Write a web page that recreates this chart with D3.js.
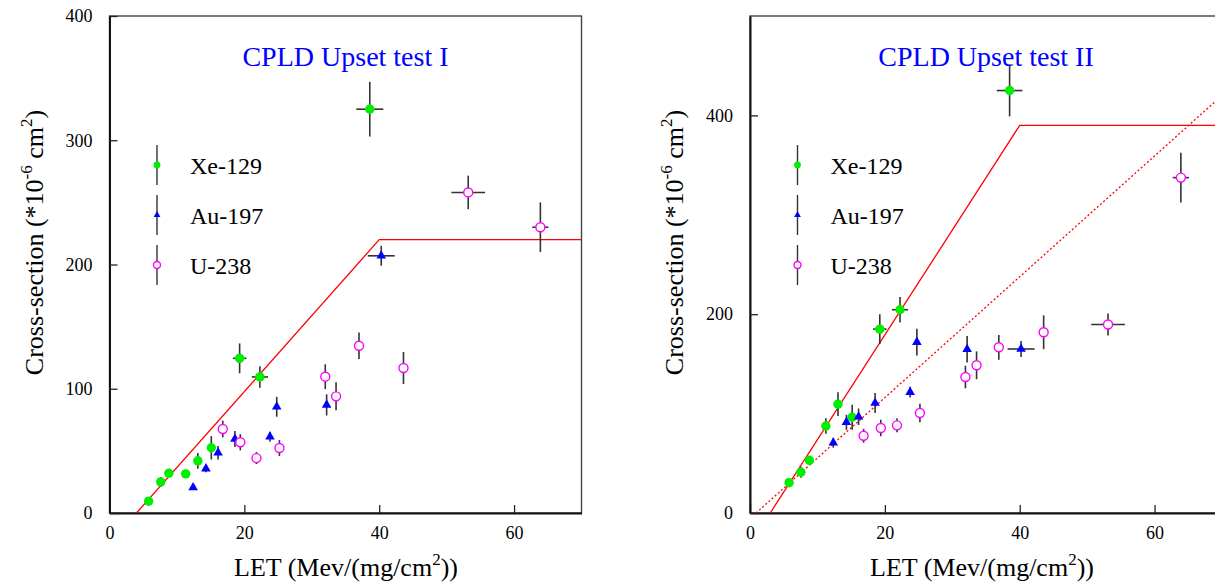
<!DOCTYPE html>
<html>
<head>
<meta charset="utf-8">
<script src="https://cdn.jsdelivr.net/npm/d3@7"></script>
<style>
  html, body { margin: 0; padding: 0; background: #fff; overflow: hidden; }
  svg { display: block; }
  svg text { font-family: "Liberation Serif", "Times New Roman", serif; }
</style>
</head>
<body>
<svg id="chart" width="1215" height="583"></svg>
<script>
// ---- data: single-event upset cross-section vs LET ----
const panelTitles = ["CPLD Upset test I", "CPLD Upset test II"];
const ionNames = ["Xe-129", "Au-197", "U-238"];

// Test I
const xe1LET      = [5.8, 7.6, 8.8, 11.3, 13.1, 15.1, 19.3, 22.3, 38.6];
const xe1Sigma    = [9.5, 25, 32, 31.5, 42, 52.5, 124.5, 109.5, 325];
const xe1SigmaErr = [3, 4, 3, 3, 6.3, 9.4, 12, 8.7, 22];
const xe1LETErr   = [0, 0, 0, 0, 0, 0, 1.0, 1.2, 2.0];

const au1LET      = [12.4, 14.3, 16.1, 18.6, 23.8, 24.8, 32.2, 40.3];
const au1Sigma    = [20.5, 35.7, 48.5, 59.5, 61.4, 85.5, 87, 207];
const au1SigmaErr = [2, 3, 5.4, 6.4, 4, 8, 8.5, 8];
const au1LETErr   = [0, 0, 0, 0, 0, 0, 0, 2.0];

const u1LET       = [16.8, 19.4, 21.8, 25.2, 32.0, 33.6, 37.0, 43.6, 53.2, 63.9];
const u1Sigma     = [67.6, 56.9, 44.2, 52.3, 109.7, 93.9, 134.6, 116.7, 258, 230];
const u1SigmaErr  = [6.7, 6.5, 4.8, 6.4, 10, 11.3, 10.7, 12.9, 13.5, 20];
const u1LETErr    = [0, 0, 0, 0, 0, 0, 0, 0, 2.5, 1.2];

const fit1LET   = [4, 40, 70];
const fit1Sigma = [0, 220, 220];

// Test II
const xe2LET      = [5.8, 7.55, 8.8, 11.25, 13.05, 15.15, 19.25, 22.25, 38.5];
const xe2Sigma    = [30.5, 41, 53, 87.5, 109.5, 96.3, 185, 204.5, 425];
const xe2SigmaErr = [3, 5.5, 3, 7.8, 12, 12.5, 15, 12.8, 26];
const xe2LETErr   = [0, 0, 0, 0, 0, 0, 1.0, 1.2, 1.9];

const au2LET      = [12.35, 14.3, 16.1, 18.55, 23.75, 24.75, 32.2, 40.2];
const au2Sigma    = [70.7, 91.2, 96.8, 110.6, 121.6, 171.9, 164.8, 165];
const au2SigmaErr = [5, 7.5, 8.3, 10, 5.5, 13.5, 13.3, 8];
const au2LETErr   = [0, 0, 0, 0, 0, 0, 0, 2.0];

const u2LET       = [16.85, 19.4, 21.8, 25.2, 31.95, 33.6, 36.9, 43.55, 53.1, 63.9];
const u2Sigma     = [77.7, 85.5, 88.2, 100.6, 136.8, 148.6, 166.7, 181.8, 189.6, 337.4];
const u2SigmaErr  = [7, 8.3, 7, 9.3, 11.3, 14, 12.5, 17, 11, 25];
const u2LETErr    = [0, 0, 0, 0, 0, 0, 0, 0, 2.5, 1.2];

const fit2LET    = [3, 40, 70];
const fit2Sigma  = [0, 390, 390];
const fit2bLET   = [0.9, 70];
const fit2bSigma = [0, 420];

const xTicks  = [0, 20, 40, 60];
const y1Ticks = [0, 100, 200, 300, 400];
const y2Ticks = [0, 200, 400];

// ---- helpers ----
function series(LET, sigma, sErr, lErr) {
  return LET.map((x, i) => ({ x, y: sigma[i], ey: sErr[i], ex: lErr[i] }));
}
function pts(xs, ys) { return xs.map((x, i) => ({ x, y: ys[i] })); }

const panels = [
  {
    title: panelTitles[0],
    left: 109.5, xMax: 70, yMax: 400, yTicks: y1Ticks,
    ions: [
      series(xe1LET, xe1Sigma, xe1SigmaErr, xe1LETErr),
      series(au1LET, au1Sigma, au1SigmaErr, au1LETErr),
      series(u1LET, u1Sigma, u1SigmaErr, u1LETErr)
    ],
    fits: [{ d: pts(fit1LET, fit1Sigma), dash: null }],
    yLabelX: 43, xLabelX: 346
  },
  {
    title: panelTitles[1],
    left: 750, xMax: 70, yMax: 500, yTicks: y2Ticks,
    ions: [
      series(xe2LET, xe2Sigma, xe2SigmaErr, xe2LETErr),
      series(au2LET, au2Sigma, au2SigmaErr, au2LETErr),
      series(u2LET, u2Sigma, u2SigmaErr, u2LETErr)
    ],
    fits: [
      { d: pts(fit2LET, fit2Sigma), dash: null },
      { d: pts(fit2bLET, fit2bSigma), dash: "2,2.2" }
    ],
    yLabelX: 683, xLabelX: 982
  }
];

const plotW = 472, plotTop = 16, plotBottom = 513;
const errColor = "#333";
const serif = "Liberation Serif, Times New Roman, serif";
const markerKinds = ["dot", "tri", "ring"];

const svg = d3.select("#chart");

function drawMarker(g, kind, cx, cy, big) {
  if (kind === "dot") {
    g.append("circle").attr("cx", cx).attr("cy", cy).attr("r", big ? 4.7 : 3.4)
      .attr("fill", "#00ee00");
  } else if (kind === "tri") {
    g.append("path")
      .attr("d", d3.symbol(d3.symbolTriangle, big ? 40 : 20)())
      .attr("transform", `translate(${cx},${cy})`)
      .attr("fill", "#0000ff");
  } else {
    g.append("circle").attr("cx", cx).attr("cy", cy).attr("r", big ? 4.5 : 3.5)
      .attr("fill", "#fff").attr("stroke", "#ff00ff").attr("stroke-width", 1.4);
  }
}

panels.forEach(p => {
  const x = d3.scaleLinear().domain([0, p.xMax]).range([p.left, p.left + plotW]);
  const y = d3.scaleLinear().domain([0, p.yMax]).range([plotBottom, plotTop]);
  const g = svg.append("g");

  // frame
  g.append("rect").attr("x", p.left).attr("y", plotTop)
    .attr("width", plotW).attr("height", plotBottom - plotTop)
    .attr("fill", "none").attr("stroke", "#444").attr("stroke-width", 1.4);

  // axes with inward ticks
  const xAxis = d3.axisBottom(x).tickValues(xTicks).tickSizeInner(-8).tickSizeOuter(0).tickPadding(13);
  const yAxis = d3.axisLeft(y).tickValues(p.yTicks).tickSizeInner(-8).tickSizeOuter(0).tickPadding(17);
  const gx = g.append("g").attr("transform", `translate(0,${plotBottom})`).call(xAxis);
  const gy = g.append("g").attr("transform", `translate(${p.left},0)`).call(yAxis);
  [gx, gy].forEach(a => {
    a.attr("font-family", serif);
    a.select(".domain").attr("stroke", "#111").attr("stroke-width", 2);
    a.selectAll(".tick line").attr("stroke", "#222").attr("stroke-width", 1.3);
    a.selectAll(".tick text").attr("font-family", serif)
      .attr("font-size", 18).attr("fill", "#000");
  });
  gx.selectAll(".tick text").attr("dy", "0.71em");

  // fit curves
  const line = d3.line().x(d => x(d.x)).y(d => y(d.y));
  p.fits.forEach(f => {
    g.append("path").attr("d", line(f.d)).attr("fill", "none")
      .attr("stroke", "#ff0000").attr("stroke-width", 1.3)
      .attr("stroke-dasharray", f.dash);
  });

  // data with error bars
  p.ions.forEach((s, k) => {
    const sg = g.append("g");
    s.forEach(d => {
      sg.append("line").attr("x1", x(d.x)).attr("x2", x(d.x))
        .attr("y1", y(d.y - d.ey)).attr("y2", y(d.y + d.ey))
        .attr("stroke", errColor).attr("stroke-width", 1.6);
      if (d.ex > 0) {
        sg.append("line").attr("x1", x(d.x - d.ex)).attr("x2", x(d.x + d.ex))
          .attr("y1", y(d.y)).attr("y2", y(d.y))
          .attr("stroke", errColor).attr("stroke-width", 1.6);
      }
    });
    s.forEach(d => drawMarker(sg, markerKinds[k], x(d.x), y(d.y), true));
  });

  // legend
  const lg = g.append("g");
  ionNames.forEach((name, k) => {
    const cy = 165 + k * 50;
    const cx = p.left + 47.5;
    lg.append("line").attr("x1", cx).attr("x2", cx).attr("y1", cy - 20).attr("y2", cy + 20)
      .attr("stroke", errColor).attr("stroke-width", 1.4);
    drawMarker(lg, markerKinds[k], cx, cy, false);
    lg.append("text").attr("x", p.left + 80.5).attr("y", cy + 8.5)
      .attr("font-family", serif).attr("font-size", 24).attr("fill", "#000").text(name);
  });

  // panel title
  g.append("text").attr("x", p.left + plotW / 2).attr("y", 66)
    .attr("text-anchor", "middle").attr("font-family", serif)
    .attr("font-size", 28).attr("fill", "#0000ff")
    .text(p.title);

  // x axis title
  const xt = g.append("text").attr("x", p.xLabelX).attr("y", 576)
    .attr("text-anchor", "middle").attr("font-family", serif)
    .attr("font-size", 26).attr("fill", "#000");
  xt.append("tspan").text("LET (Mev/(mg/cm");
  xt.append("tspan").attr("font-size", 17).attr("dy", -11).text("2");
  xt.append("tspan").attr("dy", 11).text("))");

  // y axis title
  const yt = g.append("text")
    .attr("transform", `translate(${p.yLabelX},${(plotTop + plotBottom) / 2 - 22}) rotate(-90)`)
    .attr("text-anchor", "middle").attr("font-family", serif)
    .attr("font-size", 26).attr("fill", "#000");
  yt.append("tspan").text("Cross-section (*10");
  yt.append("tspan").attr("font-size", 17).attr("dy", -11).text("-6");
  yt.append("tspan").attr("dy", 11).text(" cm");
  yt.append("tspan").attr("font-size", 17).attr("dy", -11).text("2");
  yt.append("tspan").attr("dy", 11).text(")");
});
</script>
</body>
</html>
